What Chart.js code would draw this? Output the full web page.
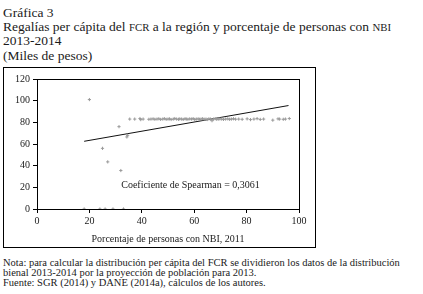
<!DOCTYPE html>
<html lang="es">
<head>
<meta charset="UTF-8">
<title>Gráfica 3 - Regalías per cápita del FCR y NBI</title>
<script src="https://cdn.jsdelivr.net/npm/chart.js"></script>
<style>
    body { margin: 0; width: 423px; height: 294px; background: #fff; font-family: "Liberation Serif", serif; color: #1a1a1a; position: relative; overflow: hidden; }
    .title { position: absolute; left: 3px; top: 6px; font-size: 13.5px; line-height: 14.2px; white-space: nowrap; }
    .sc { font-size: 0.8em; }
    .frame { position: absolute; left: 3px; top: 67px; width: 311px; height: 179px; border: 1px solid #000; }
    .frame canvas { position: absolute; left: 0; top: 0; }
    .note { position: absolute; left: 3px; top: 258px; font-size: 10.5px; line-height: 10px; white-space: nowrap; }
</style>
</head>
<body>

<div class="title">
    Gráfica 3<br>
    Regalías per cápita del <span class="sc">FCR</span> a la región y porcentaje de personas con <span class="sc">NBI</span><br>
    2013-2014<br>
    (Miles de pesos)
</div>

<div class="frame">
    <canvas id="chart" width="311" height="179"></canvas>
</div>

<div class="note">
    Nota: para calcular la distribución per cápita del FCR se dividieron los datos de la distribución<br>
    bienal 2013-2014 por la proyección de población para 2013.<br>
    Fuente: SGR (2014) y DANE (2014a), cálculos de los autores.
</div>

<script>
    // porcentaje de personas con NBI (x) y regalías per cápita (y)
    const nbi = [
        18, 24, 26, 29, 33,
        20, 25, 27, 31.3, 32, 34.3, 34.6,
        35.4, 37.3, 39.3, 39.6, 40.5, 42.7, 43.5, 44.3, 45, 45.8, 46.5, 47.2, 48, 48.6,
        49.3, 50, 50.6, 51.2, 52, 52.6, 53.3, 54, 54.5, 55.2, 55.8, 56.5, 57, 57.6,
        58.3, 59, 59.6, 60.2, 60.8, 61.5, 62, 62.6, 63.2, 63.8, 64.5, 65, 65.6, 66.2,
        66.8, 67.4, 68, 68.6, 69.2, 69.8, 70.5, 71.2, 72, 72.8, 73.5, 74.2, 75, 75.8,
        77, 78.3, 80.2, 81.5, 82.8, 84, 85.2, 86.5, 90, 92, 92.6, 94, 94.8, 96.3
    ];
    const regalias = [
        0, 0, 0, 0, 0,
        101, 56, 43.5, 76, 35.5, 66.5, 68,
        83, 83, 83.5, 82.5, 83, 82.8, 83, 83.2, 82.8, 83, 83.3, 82.7, 83, 83.4,
        82.8, 83, 83.2, 82.6, 83, 83.5, 83, 82.8, 83.2, 83, 82.7, 83.3, 83, 82.8,
        83.2, 83, 83.4, 82.7, 83, 83.2, 82.8, 83, 83.3, 82.9, 83, 82.6, 83.2, 83,
        81.5, 83, 83.4, 82.8, 83, 83.2, 83, 82.7, 83, 83.2, 82.8, 83, 83.3, 82.9,
        83, 82.8, 83.2, 82.5, 83, 83.4, 82.7, 83, 82, 83.2, 83, 82.8, 83, 83.5
    ];
    // recta de tendencia (extremos)
    const trendX = [18, 96];
    const trendY = [62.5, 95.5];

    const xTicks = [0, 20, 40, 60, 80, 100];
    const yTicks = [0, 20, 40, 60, 80, 100, 120];
    const spearmanLabel = 'Coeficiente de Spearman = 0,3061';
    const spearmanPos = [58.6, 22];

    const serif = '"Liberation Serif", serif';

    const boxPlugin = {
        id: 'box',
        afterDraw(chart) {
            const { ctx, chartArea: a, scales } = chart;
            ctx.save();
            ctx.strokeStyle = '#000';
            ctx.lineWidth = 1;
            ctx.strokeRect(Math.round(a.left) + 0.5, Math.round(a.top) + 0.5,
                Math.round(a.right - a.left), Math.round(a.bottom - a.top));
            ctx.fillStyle = '#1a1a1a';
            ctx.font = '10px ' + serif;
            ctx.textAlign = 'center';
            ctx.textBaseline = 'middle';
            ctx.fillText(spearmanLabel, scales.x.getPixelForValue(spearmanPos[0]),
                scales.y.getPixelForValue(spearmanPos[1]));
            ctx.restore();
        }
    };

    new Chart(document.getElementById('chart'), {
        type: 'scatter',
        data: {
            datasets: [
                {
                    label: 'Departamentos',
                    data: nbi.map((x, i) => ({ x: x, y: regalias[i] })),
                    pointStyle: 'cross',
                    pointRadius: 1.6,
                    borderColor: '#9a9a9a',
                    borderWidth: 1,
                    backgroundColor: '#9a9a9a'
                },
                {
                    label: 'Tendencia',
                    type: 'line',
                    data: trendX.map((x, i) => ({ x: x, y: trendY[i] })),
                    borderColor: '#111',
                    borderWidth: 1,
                    pointRadius: 0,
                    fill: false
                }
            ]
        },
        options: {
            responsive: false,
            animation: false,
            layout: { padding: { top: 11, right: 16, left: 0, bottom: 0 } },
            plugins: { legend: { display: false }, tooltip: { enabled: false } },
            scales: {
                x: {
                    type: 'linear',
                    min: 0, max: 100,
                    afterBuildTicks(s) { s.ticks = xTicks.map(v => ({ value: v })); },
                    afterFit(s) { s.height = 38; },
                    grid: { drawOnChartArea: false, tickLength: 4, color: '#000' },
                    border: { color: '#000' },
                    ticks: { color: '#1a1a1a', font: { family: serif, size: 10 }, padding: 2, maxRotation: 0 },
                    title: { display: true, text: 'Porcentaje de personas con NBI, 2011', color: '#1a1a1a',
                        font: { family: serif, size: 10 }, padding: { top: 6, bottom: 2 } }
                },
                y: {
                    min: 0, max: 120,
                    afterBuildTicks(s) { s.ticks = yTicks.map(v => ({ value: v })); },
                    afterFit(s) { s.width = 33; },
                    grid: { drawOnChartArea: false, tickLength: 4, color: '#000' },
                    border: { color: '#000' },
                    ticks: { color: '#1a1a1a', font: { family: serif, size: 10 }, padding: 3 }
                }
            }
        },
        plugins: [boxPlugin]
    });
</script>
</body>
</html>
